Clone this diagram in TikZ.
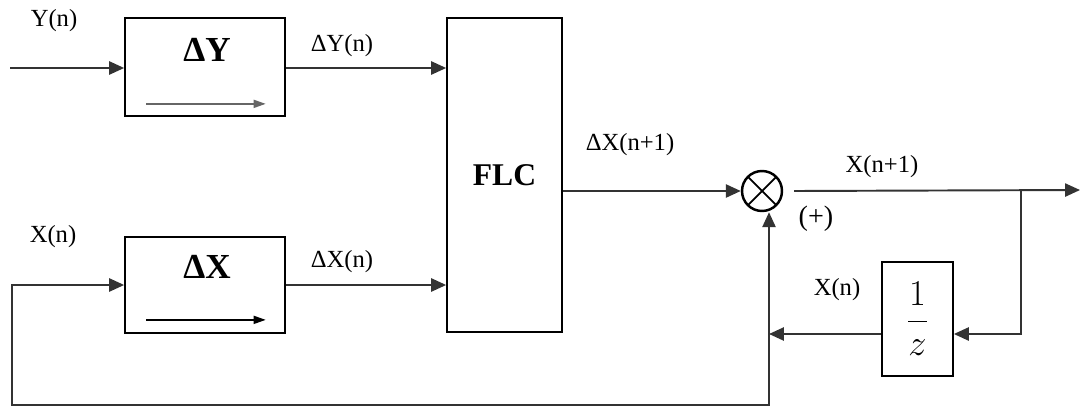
\documentclass[tikz,border=0pt]{standalone}
\usepackage{amsmath}
\usepackage{fontspec}
\setmainfont{Liberation Serif}
\usepackage{tikz}
\usetikzlibrary{arrows.meta, positioning, calc}
\tikzset{
  block/.style={rectangle, draw=black, line width=1pt, fill=white, inner sep=0pt},
  sumnode/.style={circle, draw=black, line width=1.4pt, minimum size=0.8cm, inner sep=0pt,
    path picture={\draw[line width=1pt] (path picture bounding box.north west) -- (path picture bounding box.south east)
      (path picture bounding box.north east) -- (path picture bounding box.south west);}},
  lbl/.style={font=\fontsize{14}{16}\selectfont, inner sep=0pt},
  bigtxt/.style={font=\fontsize{20}{22}\selectfont\bfseries, inner sep=0pt},
  arrow/.style={-{Triangle[length=8.5pt, width=7.5pt]}, line width=1.1pt, draw=black!80},
  inarrow/.style={-{Triangle[length=7pt, width=4.5pt]}, line width=1.2pt}
}
\begin{document}
\begin{tikzpicture}[x=0.02cm, y=-0.02cm]
  \useasboundingbox (0,0) rectangle (1081,409);
  % blocks
  \node[block, minimum width=3.2cm, minimum height=1.96cm] (dy) at (205,67) {};
  \node[bigtxt] (dyname) at (207,50) {ΔY};
  \node[block, minimum width=3.2cm, minimum height=1.92cm] (dx) at (205,285) {};
  \node[bigtxt] (dxname) at (207,267) {ΔX};
  \node[block, minimum width=2.3cm, minimum height=6.28cm, font=\fontsize{18}{20}\selectfont\bfseries] (flc) at (504.5,175) {FLC};
  \node[sumnode] (mul) at (762,191) {};
  \node[block, minimum width=1.42cm, minimum height=2.28cm, font=\fontsize{20}{22}\selectfont] (dz) at (917.5,319) {$\dfrac{1}{z}$};
  % free ends
  \coordinate (yin) at (10,68);
  \coordinate (out) at (1080,190);
  \coordinate (br) at (1021,190);
  \coordinate (fb) at (769,334);
  \coordinate (bl) at (12,405);
  % inner arrows
  \draw[inarrow, draw=black!60] ([shift={(22,-13)}]dy.south west) -- ([shift={(-20,-13)}]dy.south east);
  \draw[inarrow, draw=black] ([shift={(22,-14)}]dx.south west) -- ([shift={(-20,-14)}]dx.south east);
  % connectors
  \draw[arrow] (yin) -- (dy.west |- yin);
  \draw[arrow] (dy.east |- yin) -- (flc.west |- yin);
  \draw[arrow] (dx.east) -- (flc.west |- dx.east);
  \draw[arrow] (flc.east |- mul.west) -- (mul.west);
  \draw[arrow] ([xshift=0.22cm]mul.east) -- (out);
  \draw[arrow] (br) |- (dz.east |- fb);
  \draw[arrow] (dz.west |- fb) -- (fb);
  \draw[arrow] (fb) -- (mul.south -| fb);
  \draw[arrow] (fb) |- (bl) |- (dx.west);
  % labels
  \node[lbl] (ylbl) at (54,21) {Y(n)};
  \node[lbl] (dylbl) at (342,46) {ΔY(n)};
  \node[lbl] (xlbl) at (53,237) {X(n)};
  \node[lbl] (dxlbl) at (342,262) {ΔX(n)};
  \node[lbl] (dxnlbl) at (630,145) {ΔX(n+1)};
  \node[lbl] (xnlbl) at (882,167) {X(n+1)};
  \node[lbl, font=\fontsize{16}{18}\selectfont] (plus) at (816,219) {(+)};
  \node[lbl] (xfb) at (837,290) {X(n)};
\end{tikzpicture}
\end{document}
